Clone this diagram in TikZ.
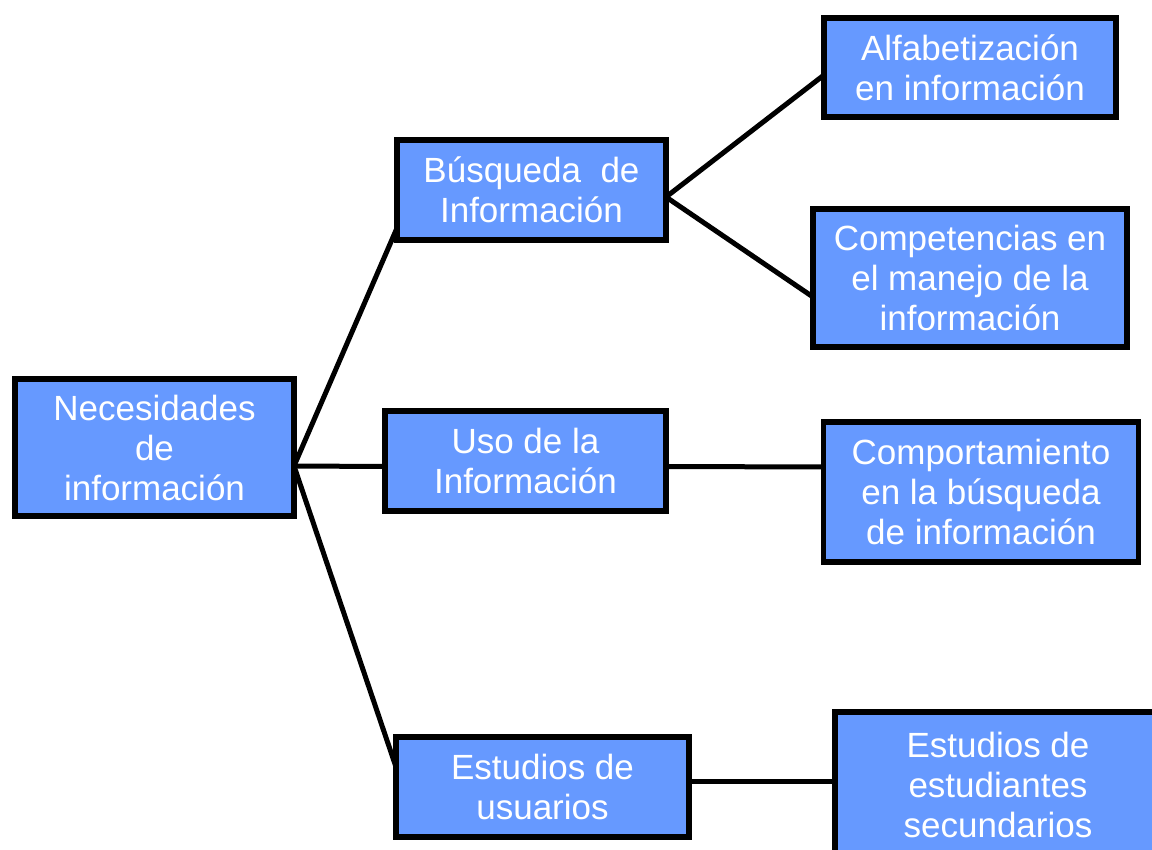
\documentclass[tikz,border=0pt]{standalone}
\usepackage{fontspec}
\setmainfont{Liberation Sans}
\definecolor{boxblue}{HTML}{6699FF}
\begin{document}
\begin{tikzpicture}[x=1pt,y=-1pt,
  box/.style={draw=black, line width=5.5pt, fill=boxblue, text=white, align=center,
    inner sep=0pt, outer sep=0pt, font=\fontsize{35}{40}\selectfont},
  link/.style={line width=5pt}]
\useasboundingbox (0,0) rectangle (1152,850);
\node[box, minimum width=279, minimum height=137] (nec) at (154.5,447.5) {Necesidades\\de\\información};
\node[box, minimum width=269, minimum height=100] (bus) at (531.5,190) {Búsqueda~ de\\Información};
\node[box, minimum width=281, minimum height=100] (uso) at (525.5,461) {Uso de la\\Información};
\node[box, minimum width=293, minimum height=100] (usu) at (542.5,787) {Estudios de\\usuarios};
\node[box, minimum width=292, minimum height=99] (alf) at (970,67.5) {Alfabetización\\en información};
\node[box, minimum width=314, minimum height=138] (comp) at (970,278) {Competencias en\\el manejo de la\\información};
\node[box, minimum width=315, minimum height=140] (comport) at (981,492) {Comportamiento\\en la búsqueda\\de información};
\node[box, minimum width=326, minimum height=146] (sec) at (998,785) {Estudios de\\estudiantes\\secundarios};
\draw[link] ([yshift=-18.5pt]nec.east) -- ([yshift=-38pt]bus.west);
\draw[link] ([yshift=-18.5pt]nec.east) -- ([yshift=-5.5pt]uso.west);
\draw[link] ([yshift=-18.5pt]nec.east) -- ([yshift=20pt]usu.west);
\draw[link] ([yshift=-7pt]bus.east) -- ([yshift=-7.5pt]alf.west);
\draw[link] ([yshift=-7pt]bus.east) -- ([yshift=-19pt]comp.west);
\draw[link] ([yshift=-5.5pt]uso.east) -- ([yshift=25pt]comport.west);
\draw[link] ([yshift=6pt]usu.east) -- ([yshift=4pt]sec.west);
\end{tikzpicture}
\end{document}
